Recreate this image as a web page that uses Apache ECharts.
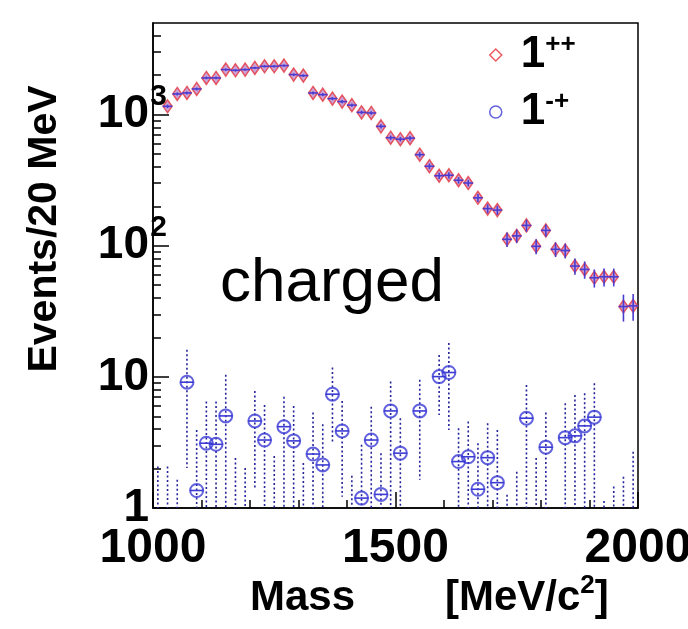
<!DOCTYPE html>
<html><head><meta charset="utf-8">
<script src="https://cdn.jsdelivr.net/npm/echarts@6/dist/echarts.min.js"></script>
<style>html,body{margin:0;padding:0;background:#fff}#c{width:688px;height:629px}</style>
</head><body><div id="c"></div>
<script>
// ---- data ----
const mass1pp = [1030,1050,1070,1090,1110,1130,1150,1170,1190,1210,1230,1250,1270,1290,1310,1330,1350,1370,1390,1410,1430,1450,1470,1490,1510,1530,1550,1570,1590,1610,1630,1650,1670,1690,1710,1730,1750,1770,1790,1810,1830,1850,1870,1890,1910,1930,1950,1970,1990];
const val1pp = [1157,1439,1464,1571,1906,1906,2205,2179,2205,2273,2337,2337,2366,2020,1985,1464,1421,1325,1257,1182,1041,1030,814,667,650,662,495,404,342,345,316,301,232,192,187,112,119,143,99,131,94,92,70,66,57,58,58,34.4,34.8];
const err1pp = [35,38,38,40,44,44,47,47,47,48,48,48,49,45,45,38,38,36,35,34,32,32,29,26,26,26,22,20,19,19,18,17,16,15,15,14,14,15,13,14,12,12,10,10,9,9,9,8,8];

const mass1mp = [1010,1030,1050,1070,1090,1110,1130,1150,1170,1190,1210,1230,1250,1270,1290,1310,1330,1350,1370,1390,1410,1430,1450,1470,1490,1510,1550,1590,1610,1630,1650,1670,1690,1710,1730,1750,1770,1790,1810,1850,1870,1890,1910,1930,1950,1970,1990];
const val1mp = [null,null,null,9.11,1.36,3.12,3.06,5.04,null,null,4.61,3.30,null,4.17,3.25,null,2.58,2.13,7.38,3.87,null,1.19,3.30,1.27,5.50,2.62,5.50,10.05,10.8,2.26,2.46,1.39,2.42,1.56,null,null,4.84,null,2.91,3.44,3.55,4.23,4.93,null,null,null,null];
const hi1mp = [2.07,2.07,1.64,16.1,3.94,6.48,6.48,10.4,2.41,2.02,7.82,6.11,2.49,7.07,6.01,2.20,5.34,4.35,11.8,6.56,1.76,3.03,5.93,2.62,9.21,4.84,9.49,14.7,18.1,4.06,4.56,3.12,4.43,3.94,1.26,1.89,8.69,2.41,5.34,6.30,7.29,7.51,8.95,1.13,1.46,1.73,2.69];
const lo1mp = [1,1,1,2.02,1,1,1,1,1,1,1.40,1,1,1,1,1,1,1,3.12,1.22,1,1,1,1,1,1,1.64,5.13,3.94,1,1,1,1,1,1,1,1,1,1,1,1,1,1,1,1,1,1];

const yMajorTicks = [1,10,100,1000];
const yMinorTicks = [2,3,4,5,6,7,8,9,20,30,40,50,60,70,80,90,200,300,400,500,600,700,800,900,2000,3000,4000];
const xLabelValues = [1000,1500,2000];
const xMinorTicks = [1100,1200,1300,1400,1600,1700,1800,1900];

const FONT = "'Liberation Sans', Arial, Helvetica, sans-serif";
const RED = '#e5323a', BLUE = '#3b3bd6';

const chart = echarts.init(document.getElementById('c'), null, {renderer:'canvas'});

function renderPP(params, api) {
  const x = api.value(0), v = api.value(1), e = api.value(2);
  const a = api.coord([x - 10, v]), b = api.coord([x + 10, v]);
  const t = api.coord([x, v + e]), d = api.coord([x, Math.max(v - e, 1)]);
  return {type:'group', children:[
    {type:'line', shape:{x1:a[0],y1:a[1],x2:b[0],y2:b[1]}, style:{stroke:'#4a3cd0', lineWidth:1.6}},
    {type:'line', shape:{x1:t[0],y1:t[1],x2:d[0],y2:d[1]}, style:{stroke:'#4a3cd0', lineWidth:1.6}}
  ]};
}
function renderMP(params, api) {
  const x = api.value(0), v = api.value(1), lo = api.value(2), hi = api.value(3);
  const t = api.coord([x, hi]), d = api.coord([x, lo]);
  const ch = [{type:'line', shape:{x1:t[0],y1:t[1],x2:d[0],y2:d[1]}, style:{stroke:'#23239a', lineWidth:1.6, lineDash:[2,2.5]}}];
  if (!isNaN(v) && v > 0) {
    const a = api.coord([x - 10, v]), b = api.coord([x + 10, v]);
    ch.push({type:'line', shape:{x1:a[0]-2,y1:a[1],x2:b[0]+2,y2:b[1]}, style:{stroke:BLUE, lineWidth:1.6}});
  }
  return {type:'group', children:ch};
}

const option = {
  animation: false,
  backgroundColor: '#fff',
  grid: {left:153, right:50, top:23, bottom:121, show:true, borderColor:'#000', borderWidth:1.5, containLabel:false, outerBoundsMode:'none'},
  legend: {
    data: [
      {name:'1++', icon:'diamond', itemStyle:{color:'rgba(0,0,0,0)', borderColor:RED, borderWidth:1.5}},
      {name:'1-+', icon:'circle', itemStyle:{color:'rgba(0,0,0,0)', borderColor:BLUE, borderWidth:1.5}}
    ],
    orient:'vertical', left:484, top:27, itemWidth:12, itemHeight:12, itemGap:12,
    formatter: n => '{b|1}{s|' + n.slice(1) + '}',
    textStyle: {padding:[0,0,0,14], rich:{
      b:{fontSize:44, fontWeight:'bold', fontFamily:FONT, color:'#000', lineHeight:36},
      s:{fontSize:26, fontWeight:'bold', fontFamily:FONT, color:'#000', padding:[0,0,20,0]}
    }}
  },
  xAxis: [
    {type:'value', min:1000, max:2000,
     axisLine:{show:true, lineStyle:{color:'#000', width:1.5}},
     axisTick:{show:true, inside:true, length:16, customValues:xLabelValues, lineStyle:{color:'#000', width:1.5}},
     axisLabel:{customValues:xLabelValues, formatter: v => String(v), fontSize:48, fontWeight:'bold', fontFamily:FONT, color:'#000', margin:17},
     splitLine:{show:false}},
    {type:'value', min:1000, max:2000, position:'bottom',
     axisLine:{show:false},
     axisTick:{show:true, inside:true, length:8, customValues:xMinorTicks, lineStyle:{color:'#000', width:1.5}},
     axisLabel:{show:false}, splitLine:{show:false}}
  ],
  yAxis: [
    {type:'log', logBase:10, min:1, max:5000,
     axisLine:{show:true, lineStyle:{color:'#000', width:1.5}},
     axisTick:{show:true, inside:true, length:16, customValues:yMajorTicks, lineStyle:{color:'#000', width:1.5}},
     axisLabel:{customValues:yMajorTicks, formatter: v => (v < 5 ? '1' : '10'), fontSize:46, fontWeight:'bold', fontFamily:FONT, color:'#000', margin:4},
     splitLine:{show:false}},
    {type:'log', logBase:10, min:1, max:5000, position:'left', offset:0,
     axisLine:{show:false},
     axisTick:{show:true, inside:true, length:8, customValues:yMinorTicks, lineStyle:{color:'#000', width:1.5}},
     axisLabel:{customValues:[100,1000], formatter: v => (v < 500 ? '2' : '3'), fontSize:30, fontWeight:'bold', fontFamily:FONT, color:'#000', margin:-14, align:'right', verticalAlign:'bottom', lineHeight:36},
     splitLine:{show:false}}
  ],
  series: [
    {name:'1++', type:'scatter', xAxisIndex:0, yAxisIndex:0, z:3,
     data: mass1pp.map((m,i) => [m, val1pp[i]]),
     symbol:'diamond', symbolSize:[9,13],
     itemStyle:{color:'rgba(150,60,170,0.6)', borderColor:RED, borderWidth:1.5}},
    {name:'1++ err', type:'custom', xAxisIndex:0, yAxisIndex:0, z:4,
     data: mass1pp.map((m,i) => [m, val1pp[i], err1pp[i]]),
     encode:{x:0, y:1}, renderItem: renderPP},
    {name:'1-+ err', type:'custom', xAxisIndex:0, yAxisIndex:0, z:4,
     data: mass1mp.map((m,i) => [m, val1mp[i] === null ? '-' : val1mp[i], lo1mp[i], hi1mp[i]]),
     encode:{x:0, y:3}, renderItem: renderMP},
    {name:'1-+', type:'scatter', xAxisIndex:0, yAxisIndex:0, z:5,
     data: mass1mp.map((m,i) => [m, val1mp[i]]).filter(p => p[1] !== null),
     symbol:'circle', symbolSize:13,
     itemStyle:{color:'rgba(255,255,255,0)', borderColor:BLUE, borderWidth:2}}
  ],
  graphic: [
    {type:'text', x:45, y:229, rotation:Math.PI/2,
     style:{text:'Events/20 MeV', font:'bold 41px ' + FONT, fill:'#000', align:'center', verticalAlign:'middle'}},
    {type:'text', x:220, y:284,
     style:{text:'charged', font:'62px ' + FONT, fill:'#000', align:'left', verticalAlign:'middle'}},
    {type:'text', x:250, y:598,
     style:{text:'Mass', font:'bold 42px ' + FONT, fill:'#000', align:'left', verticalAlign:'middle'}},
    {type:'text', x:445, y:598,
     style:{text:'[MeV/c{s|2}]', font:'bold 42px ' + FONT, fill:'#000', align:'left', verticalAlign:'middle',
            rich:{s:{font:'bold 26px ' + FONT, fill:'#000', padding:[0,0,24,0]}}}}
  ]
};
chart.setOption(option);
</script>
</body></html>
